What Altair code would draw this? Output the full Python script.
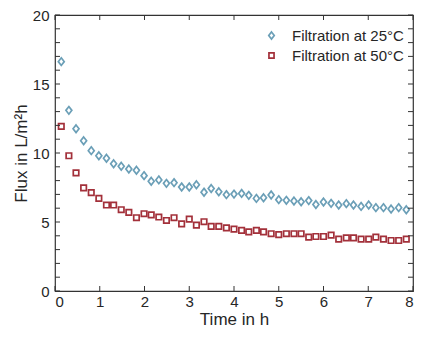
import altair as alt
import pandas as pd

time_h = [0.14, 0.31, 0.47, 0.64, 0.81, 0.98, 1.15, 1.31, 1.48, 1.65, 1.82, 1.99,
          2.15, 2.32, 2.49, 2.66, 2.83, 3.00, 3.16, 3.33, 3.49, 3.66, 3.83, 4.00,
          4.17, 4.33, 4.50, 4.66, 4.83, 5.00, 5.17, 5.34, 5.50, 5.67, 5.83, 6.00,
          6.17, 6.34, 6.51, 6.67, 6.84, 7.01, 7.17, 7.34, 7.51, 7.68, 7.85]

flux_25 = [16.62, 13.09, 11.76, 10.89, 10.17, 9.80, 9.62, 9.22, 9.04, 8.84, 8.75, 8.36,
           7.95, 8.05, 7.80, 7.85, 7.54, 7.54, 7.70, 7.16, 7.43, 7.19, 6.98, 7.02,
           7.07, 6.93, 6.71, 6.76, 6.96, 6.62, 6.57, 6.52, 6.47, 6.55, 6.27, 6.45,
           6.35, 6.23, 6.33, 6.23, 6.13, 6.23, 6.04, 6.04, 5.94, 6.04, 5.89]

flux_50 = [11.93, 9.80, 8.56, 7.47, 7.13, 6.71, 6.23, 6.23, 5.89, 5.70, 5.31, 5.60,
           5.52, 5.36, 5.11, 5.31, 4.87, 5.21, 4.78, 5.02, 4.68, 4.68, 4.58, 4.49,
           4.39, 4.29, 4.39, 4.29, 4.15, 4.09, 4.15, 4.15, 4.15, 3.90, 3.95, 3.95,
           4.05, 3.76, 3.85, 3.85, 3.76, 3.76, 3.90, 3.76, 3.66, 3.66, 3.76]

series_names = ["Filtration at 25°C", "Filtration at 50°C"]
x_ticks = [0, 1, 2, 3, 4, 5, 6, 7, 8]
y_labels = [0, 5, 10, 15, 20]
y_ticks = list(range(0, 21))

W, H = 358, 276
FONT = "Liberation Sans"
TXT = "#262626"
tick_color = "#333333"

df = pd.DataFrame({
    "t": time_h * 2,
    "flux": flux_25 + flux_50,
    "series": [series_names[0]] * len(time_h) + [series_names[1]] * len(time_h),
})

xscale = alt.Scale(domain=[0, 8], nice=False, zero=False)
yscale = alt.Scale(domain=[0, 20], nice=False)

x_axis = alt.Axis(values=x_ticks, ticks=False, domain=False, grid=False,
                  labelFontSize=15, labelColor=TXT, labelPadding=3, labelFont=FONT,
                  titleFont=FONT, titleFontSize=17, titleFontWeight=400,
                  titleColor=TXT, titlePadding=2, title="Time in h")
y_axis = alt.Axis(values=y_labels, ticks=False, domain=False, grid=False,
                  labelFontSize=15, labelColor=TXT, labelPadding=6, labelFont=FONT,
                  titleFont=FONT, titleFontSize=17, titleFontWeight=400,
                  titleColor=TXT, titlePadding=2, title="Flux in L/m²h")

diamond = "M0,-1L0.78,0L0,1L-0.78,0Z"
square = "M-0.72,-0.72L0.72,-0.72L0.72,0.72L-0.72,0.72Z"

points = alt.Chart(df).mark_point(filled=False, strokeWidth=1.7, opacity=1).encode(
    x=alt.X("t:Q", scale=xscale, axis=x_axis),
    y=alt.Y("flux:Q", scale=yscale, axis=y_axis),
    color=alt.Color("series:N",
                    scale=alt.Scale(domain=series_names, range=["#6b9fb7", "#a3303a"]),
                    legend=alt.Legend(title=None, orient="none", legendX=209, legendY=13,
                                      labelFontSize=15, labelFont=FONT, labelColor=TXT,
                                      labelOffset=13, rowPadding=4, symbolStrokeWidth=1.7,
                                      symbolSize=50, padding=0)),
    shape=alt.Shape("series:N",
                    scale=alt.Scale(domain=series_names, range=[diamond, square]),
                    legend=None),
    size=alt.value(58),
)

xt = pd.DataFrame({"t": x_ticks})
yt = pd.DataFrame({"flux": y_ticks})

xb = alt.Chart(xt).mark_rule(color=tick_color, strokeWidth=1).encode(
    x=alt.X("t:Q", scale=xscale, axis=x_axis), y=alt.value(H), y2=alt.value(H - 5))
xtp = alt.Chart(xt).mark_rule(color=tick_color, strokeWidth=1).encode(
    x=alt.X("t:Q", scale=xscale, axis=x_axis), y=alt.value(0), y2=alt.value(5))
yl = alt.Chart(yt).mark_rule(color=tick_color, strokeWidth=1).encode(
    y=alt.Y("flux:Q", scale=yscale, axis=y_axis), x=alt.value(0), x2=alt.value(5))
yr = alt.Chart(yt).mark_rule(color=tick_color, strokeWidth=1).encode(
    y=alt.Y("flux:Q", scale=yscale, axis=y_axis), x=alt.value(W - 5), x2=alt.value(W))

chart = alt.layer(points, xb, xtp, yl, yr).properties(
    width=W, height=H,
    padding={"left": 47, "top": 7, "right": 1, "bottom": 40},
    autosize=alt.AutoSizeParams(type="none"),
    background="white",
).configure_view(
    stroke=tick_color, strokeWidth=1.2
).configure_axis(
    titleFontWeight=400, titleFont=FONT, labelFont=FONT
)

chart.save("out.html", embed_options={"renderer": "svg", "actions": False})
